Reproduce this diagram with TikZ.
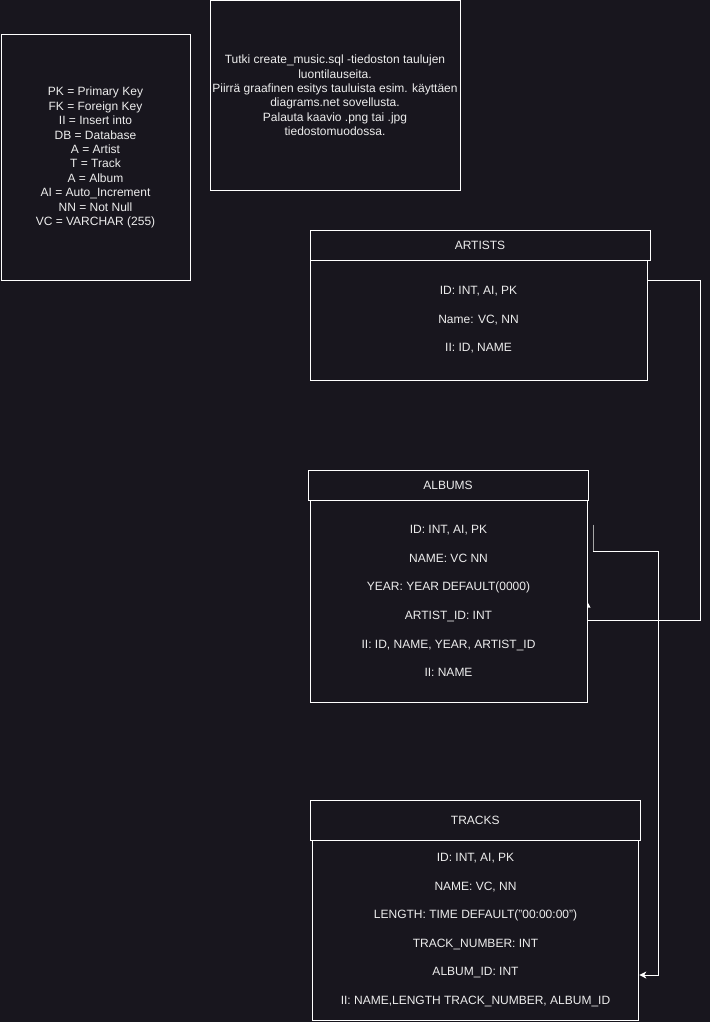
\documentclass[tikz,border=0pt]{standalone}
\usepackage{fontspec}
\setmainfont{Liberation Sans}
\usepackage{xcolor}
\usepackage{tikz}
\usetikzlibrary{positioning}
\usetikzlibrary{arrows.meta}
\definecolor{bgdark}{HTML}{18161E}
\definecolor{txtlight}{HTML}{EDEDED}

\begin{document}
\begin{tikzpicture}[
	x=1pt,y=-1pt,
	line width=1pt,
	font=\fontsize{12}{14.4}\selectfont
]
\tikzset{
    erbox/.style = {rectangle, draw=white, fill=bgdark, text=txtlight, align=center, inner sep=0pt, outer sep=0pt},
    erbody/.style = {erbox, font=\fontsize{12}{28.6}\selectfont},
    wire/.style = {draw=white, line width=1pt},
    stub/.style = {draw=gray!70, line width=1pt}
}
\fill[bgdark] (0,0) rectangle (710,1022);
\useasboundingbox (0,0) rectangle (710,1022);
% legend and task
\node[erbox,minimum width=189pt,minimum height=245pt] (legend) at (95.5,157.5) {PK = Primary Key\\FK = Foreign Key\\II = Insert into\\DB = Database\\A = Artist\\T = Track\\A = Album\\AI = Auto\_Increment\\NN = Not Null\\VC = VARCHAR (255)};
\node[erbox,minimum width=250pt,minimum height=189pt] (task) at (335,95.5) {Tutki create\_music.sql -tiedoston taulujen\\luontilauseita.\\Piirrä graafinen esitys tauluista esim. käyttäen\\diagrams.net sovellusta.\\Palauta kaavio .png tai .jpg\\tiedostomuodossa.};
% connectors
\coordinate (artexit) at (647,280);
\coordinate (bendA) at (700.5,620);
\coordinate (gstart) at (593,524.5);
\coordinate (bendB) at (658.5,551.5);
\coordinate (bendC) at (658.5,975);
\draw[wire] (artexit) -| (bendA) -- (586.5,620);
\draw[stub] (gstart) -- (gstart |- bendB);
\draw[wire] (gstart |- bendB) -- (bendB);
\draw[wire,-{Stealth[length=7pt,width=7pt,inset=2pt]}] (bendB) -- (bendC) -- (639.3,975);
\fill[white] (587,601) -- (590.5,607.5) -- (587,607.5) -- cycle;
% tables
\node[erbox,minimum width=340pt,minimum height=30pt] (arthead) at (480,245) {ARTISTS};
\node[erbody,minimum width=337pt,minimum height=120pt] (artbody) at (478.5,320) {ID: INT, AI, PK\\Name: VC, NN\\II: ID, NAME};
\node[erbox,minimum width=280pt,minimum height=30pt] (albhead) at (448,485) {ALBUMS};
\node[erbody,minimum width=277pt,minimum height=202pt] (albbody) at (448.5,601) {ID: INT, AI, PK\\NAME: VC NN\\YEAR: YEAR DEFAULT(0000)\\ARTIST\_ID: INT\\II: ID, NAME, YEAR, ARTIST\_ID\\II: NAME};
\node[erbox,minimum width=330.5pt,minimum height=40pt] (trkhead) at (475.25,820) {TRACKS};
\node[erbody,minimum width=326pt,minimum height=180pt] (trkbody) at (475.5,930) {ID: INT, AI, PK\\NAME: VC, NN\\LENGTH: TIME DEFAULT("00:00:00")\\TRACK\_NUMBER: INT\\ALBUM\_ID: INT\\II: NAME,LENGTH TRACK\_NUMBER, ALBUM\_ID};
\end{tikzpicture}
\end{document}
